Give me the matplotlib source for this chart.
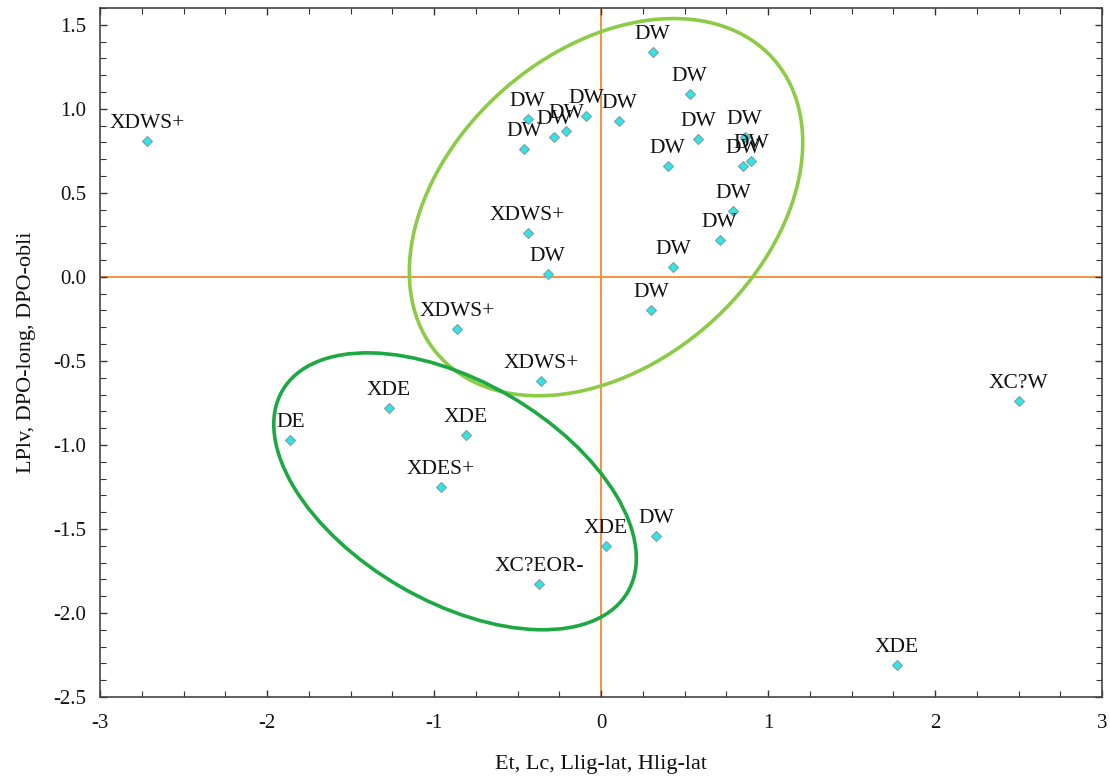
import matplotlib
matplotlib.use("Agg")
import matplotlib.pyplot as plt
from matplotlib.patches import Ellipse
from matplotlib.ticker import MultipleLocator, FormatStrFormatter

plt.rcParams['font.family'] = ['Liberation Serif', 'DejaVu Serif']
plt.rcParams['axes.unicode_minus'] = False

# ---- data ----
labels = ["XDWS+", "DW", "DW", "DW", "DW", "DW", "DW", "DW", "DW", "DW",
          "DW", "DW", "DW", "DW", "DW", "DW", "DW", "XDWS+", "DW", "DW",
          "XDWS+", "XDWS+", "XDE", "DE", "XDE", "XDES+", "XDE", "DW",
          "XC?EOR-", "XC?W", "XDE"]
x_vals = [-2.72, 0.31, 0.53, -0.44, -0.09, 0.11, -0.21, -0.28, -0.46, 0.58,
          0.40, 0.86, 0.85, 0.90, 0.79, 0.71, 0.43, -0.44, -0.32, 0.30,
          -0.86, -0.36, -1.27, -1.86, -0.81, -0.96, 0.03, 0.33,
          -0.37, 2.50, 1.77]
y_vals = [0.81, 1.34, 1.09, 0.94, 0.96, 0.93, 0.87, 0.83, 0.76, 0.82,
          0.66, 0.83, 0.66, 0.69, 0.39, 0.22, 0.06, 0.26, 0.02, -0.20,
          -0.31, -0.62, -0.78, -0.97, -0.94, -1.25, -1.60, -1.54,
          -1.83, -0.74, -2.31]

x_ticks = [-3, -2, -1, 0, 1, 2, 3]
y_ticks = [-2.5, -2.0, -1.5, -1.0, -0.5, 0.0, 0.5, 1.0, 1.5]

# group ellipses: (center x, center y, width, height, angle)
ell_light = (0.03, 0.415, 2.67, 1.86, 41)
ell_dark = (-0.874, -1.276, 2.39, 1.31, -30)

fig = plt.figure(figsize=(11.10, 7.78), dpi=100)
ax = fig.add_axes([0.0901, 0.1041, 0.9027, 0.8856])

ax.set_xlim(-3, 3)
ax.set_ylim(-2.5, 1.6)

orange = '#F7923F'
ax.axvline(0, color=orange, lw=1.4, zorder=1)
ax.axhline(0, color=orange, lw=1.4, zorder=1)

for (cx, cy, w, h, ang), col in [(ell_light, '#8CCB45'), (ell_dark, '#1DA843')]:
    ax.add_patch(Ellipse((cx, cy), w, h, angle=ang, fill=False,
                         edgecolor=col, lw=2.6, zorder=2))

ax.plot(x_vals, y_vals, linestyle='none', marker='D', markersize=5.5,
        markerfacecolor='#30E4E8', markeredgecolor='#7F9FA0',
        markeredgewidth=0.8, zorder=4)

for lab, xv, yv in zip(labels, x_vals, y_vals):
    ax.annotate(lab, (xv, yv), xytext=(0, 8), textcoords='offset pixels',
                ha='center', va='bottom', fontsize=15.5, color='#111111',
                zorder=5)

ax.set_xticks(x_ticks)
ax.set_yticks(y_ticks)
ax.xaxis.set_major_formatter(FormatStrFormatter('%d'))
ax.yaxis.set_major_formatter(FormatStrFormatter('%.1f'))
ax.xaxis.set_minor_locator(MultipleLocator(0.25))
ax.yaxis.set_minor_locator(MultipleLocator(0.1))
ax.tick_params(which='both', direction='in', top=True, right=True,
               colors='#333333', labelcolor='#111111', labelsize=15)
ax.tick_params(which='major', length=5, width=1)
ax.tick_params(which='minor', length=4, width=0.8)
ax.tick_params(axis='x', pad=12)
ax.tick_params(axis='y', pad=10)

for sp in ax.spines.values():
    sp.set_color('#444444')
    sp.set_linewidth(1.2)

ax.set_xlabel('Et, Lc, Llig-lat, Hlig-lat', fontsize=16, labelpad=16,
              color='#111111')
ax.set_ylabel('LPlv, DPO-long, DPO-obli', fontsize=16, labelpad=12,
              color='#111111')

fig.savefig('out.png', dpi=100)
